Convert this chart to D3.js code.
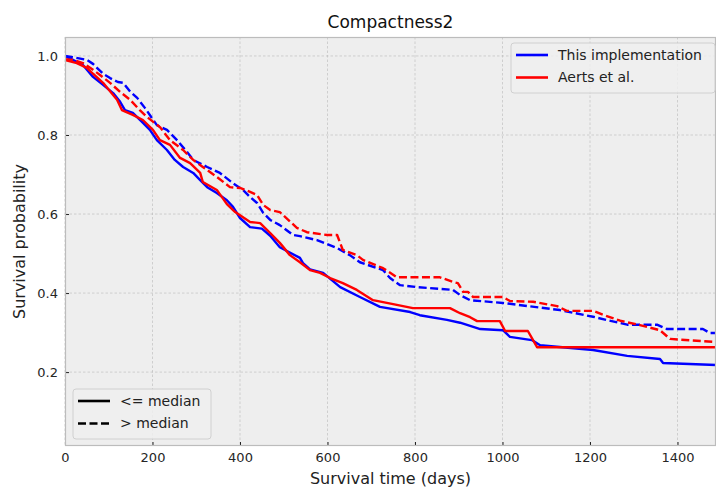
<!DOCTYPE html>
<html>
<head>
<meta charset="utf-8">
<script src="https://cdn.jsdelivr.net/npm/d3@7"></script>
<style>
  body { margin: 0; background: #fff; }
  text { font-family: "DejaVu Sans", sans-serif; }
</style>
</head>
<body>
<div id="chart"></div>
<script>
// Kaplan-Meier curves (days, survival probability)
const implLowT = [0,18,41,64,87,110,126,137,155,176,194,210,233,251,270,293,309,325,347,370,384,400,423,450,469,491,537,544,560,590,629,674,720,789,811,873,903,949,1001,1017,1067,1086,1207,1285,1360,1367,1488];
const implLowS = [1.0,0.99,0.977,0.947,0.927,0.906,0.884,0.863,0.856,0.833,0.813,0.787,0.762,0.737,0.719,0.704,0.686,0.668,0.653,0.635,0.618,0.59,0.567,0.563,0.545,0.516,0.489,0.476,0.46,0.451,0.415,0.39,0.365,0.352,0.344,0.332,0.325,0.309,0.306,0.289,0.281,0.268,0.256,0.241,0.233,0.223,0.218];

const implHighT = [0,18,50,64,73,87,103,121,133,149,165,183,210,233,256,279,293,325,354,384,407,423,439,453,469,491,521,537,576,622,651,674,727,743,766,805,887,903,926,1001,1131,1207,1285,1353,1376,1458,1474,1488];
const implHighS = [1.0,0.997,0.99,0.98,0.97,0.955,0.944,0.934,0.932,0.91,0.894,0.868,0.825,0.813,0.787,0.757,0.737,0.719,0.704,0.678,0.661,0.643,0.628,0.603,0.585,0.572,0.547,0.544,0.534,0.514,0.496,0.478,0.458,0.438,0.42,0.415,0.408,0.395,0.382,0.375,0.357,0.34,0.32,0.32,0.309,0.309,0.299,0.299];

const aertsLowT = [0,27,50,64,87,110,119,130,155,178,201,217,240,263,286,309,315,347,370,389,423,446,469,491,514,537,560,583,606,635,667,704,750,795,880,903,926,942,994,1006,1058,1079,1488];
const aertsLowS = [0.99,0.982,0.97,0.955,0.932,0.901,0.889,0.863,0.851,0.838,0.813,0.787,0.775,0.742,0.729,0.704,0.681,0.661,0.625,0.605,0.58,0.577,0.552,0.527,0.496,0.478,0.458,0.451,0.438,0.425,0.408,0.382,0.372,0.362,0.362,0.349,0.339,0.329,0.329,0.304,0.304,0.263,0.263];

const aertsHighT = [0,18,41,64,80,103,126,149,171,187,217,240,270,293,315,347,377,400,423,439,453,469,491,530,553,599,622,635,667,681,727,759,857,887,898,910,921,933,1001,1017,1070,1125,1147,1207,1230,1269,1314,1360,1383,1488];
const aertsHighS = [0.992,0.99,0.982,0.965,0.952,0.932,0.909,0.889,0.863,0.846,0.82,0.787,0.762,0.737,0.719,0.694,0.668,0.666,0.656,0.648,0.623,0.61,0.605,0.565,0.554,0.547,0.547,0.509,0.496,0.484,0.463,0.44,0.44,0.428,0.425,0.403,0.403,0.39,0.39,0.38,0.378,0.367,0.355,0.355,0.345,0.33,0.319,0.306,0.284,0.276];

const xTicks = [0, 200, 400, 600, 800, 1000, 1200, 1400];
const yTicks = [0.2, 0.4, 0.6, 0.8, 1.0];

const width = 716, height = 489;
const pLeft = 65, pRight = 716, pTop = 37, pBottom = 446;

const svg = d3.select("#chart").append("svg")
    .attr("width", width)
    .attr("height", height);

const x = d3.scaleLinear().domain([0, 1488]).range([pLeft, pRight]);
const y = d3.scaleLinear().domain([0.013, 1.048]).range([pBottom, pTop]);

// plot background
svg.append("rect")
    .attr("x", pLeft).attr("y", pTop)
    .attr("width", pRight - pLeft).attr("height", pBottom - pTop)
    .attr("fill", "#eeeeee");

svg.append("clipPath").attr("id", "plot-clip")
  .append("rect")
    .attr("x", pLeft).attr("y", pTop)
    .attr("width", pRight - pLeft).attr("height", pBottom - pTop);

// grid
const grid = svg.append("g");
grid.selectAll(".gx").data(xTicks).join("line")
    .attr("x1", d => x(d)).attr("x2", d => x(d))
    .attr("y1", pTop).attr("y2", pBottom)
    .attr("stroke", "#b8b8b8").attr("stroke-width", 0.6)
    .attr("stroke-dasharray", "2.5,2");
grid.selectAll(".gy").data(yTicks).join("line")
    .attr("x1", pLeft).attr("x2", pRight)
    .attr("y1", d => y(d)).attr("y2", d => y(d))
    .attr("stroke", "#b8b8b8").attr("stroke-width", 0.6)
    .attr("stroke-dasharray", "2.5,2");

// axes (ticks point inward)
const xAxis = svg.append("g")
    .attr("transform", `translate(0,${pBottom})`)
    .call(d3.axisBottom(x).tickValues(xTicks).tickFormat(d3.format("d"))
        .tickSizeInner(-4).tickSizeOuter(0).tickPadding(7));
const yAxis = svg.append("g")
    .attr("transform", `translate(${pLeft},0)`)
    .call(d3.axisLeft(y).tickValues(yTicks).tickFormat(d3.format(".1f"))
        .tickSizeInner(-4).tickSizeOuter(0).tickPadding(7));
[xAxis, yAxis].forEach(a => {
  a.select(".domain").remove();
  a.selectAll(".tick line").attr("stroke", "#222").attr("stroke-width", 1);
  a.selectAll(".tick text").attr("fill", "#262626").style("font-size", "13px")
      .style("font-family", "DejaVu Sans, sans-serif");
});

// curves
const line = d3.line().x(d => x(d[0])).y(d => y(d[1]));
const curves = [
  { t: implLowT, s: implLowS, color: "#0000ff", dash: null },
  { t: implHighT, s: implHighS, color: "#0000ff", dash: "8,3.5" },
  { t: aertsLowT, s: aertsLowS, color: "#ff0000", dash: null },
  { t: aertsHighT, s: aertsHighS, color: "#ff0000", dash: "8,3.5" }
];
const plot = svg.append("g").attr("clip-path", "url(#plot-clip)");
curves.forEach(c => {
  plot.append("path")
      .datum(d3.zip(c.t, c.s))
      .attr("d", line)
      .attr("fill", "none")
      .attr("stroke", c.color)
      .attr("stroke-width", 2.4)
      .attr("stroke-linejoin", "round")
      .attr("stroke-dasharray", c.dash);
});

// frame
svg.append("rect")
    .attr("x", pLeft + 0.5).attr("y", pTop + 0.5)
    .attr("width", pRight - pLeft - 1).attr("height", pBottom - pTop - 1)
    .attr("fill", "none").attr("stroke", "#bcbcbc").attr("stroke-width", 1.2);

// legends
function legend(gx, gy, w, items) {
  const g = svg.append("g").attr("transform", `translate(${gx},${gy})`);
  g.append("rect")
      .attr("width", w).attr("height", items.length * 22.5 + 5)
      .attr("rx", 3)
      .attr("fill", "#eeeeee").attr("fill-opacity", 0.85)
      .attr("stroke", "#d0d0d0");
  items.forEach((it, i) => {
    const yy = 12 + i * 22.5;
    g.append("line")
        .attr("x1", 5).attr("x2", 37).attr("y1", yy).attr("y2", yy)
        .attr("stroke", it.color).attr("stroke-width", 2.6)
        .attr("stroke-dasharray", it.dash);
    g.append("text")
        .attr("x", 47).attr("y", yy).attr("dy", "0.35em")
        .attr("fill", "#222").style("font-size", "14px")
        .text(it.label);
  });
}
legend(511, 43, 204, [
  { label: "This implementation", color: "#0000ff", dash: null },
  { label: "Aerts et al.", color: "#ff0000", dash: null }
]);
legend(73, 389, 138, [
  { label: "<= median", color: "#000", dash: null },
  { label: "> median", color: "#000", dash: "8,3.5" }
]);

// titles
svg.append("text")
    .attr("x", (pLeft + pRight) / 2).attr("y", 28)
    .attr("text-anchor", "middle").attr("fill", "#111")
    .style("font-size", "17px")
    .text("Compactness2");
svg.append("text")
    .attr("x", (pLeft + pRight) / 2).attr("y", 484)
    .attr("text-anchor", "middle").attr("fill", "#222")
    .style("font-size", "16px")
    .text("Survival time (days)");
svg.append("text")
    .attr("transform", `translate(25,${(pTop + pBottom) / 2}) rotate(-90)`)
    .attr("text-anchor", "middle").attr("fill", "#222")
    .style("font-size", "16px")
    .text("Survival probability");
</script>
</body>
</html>
